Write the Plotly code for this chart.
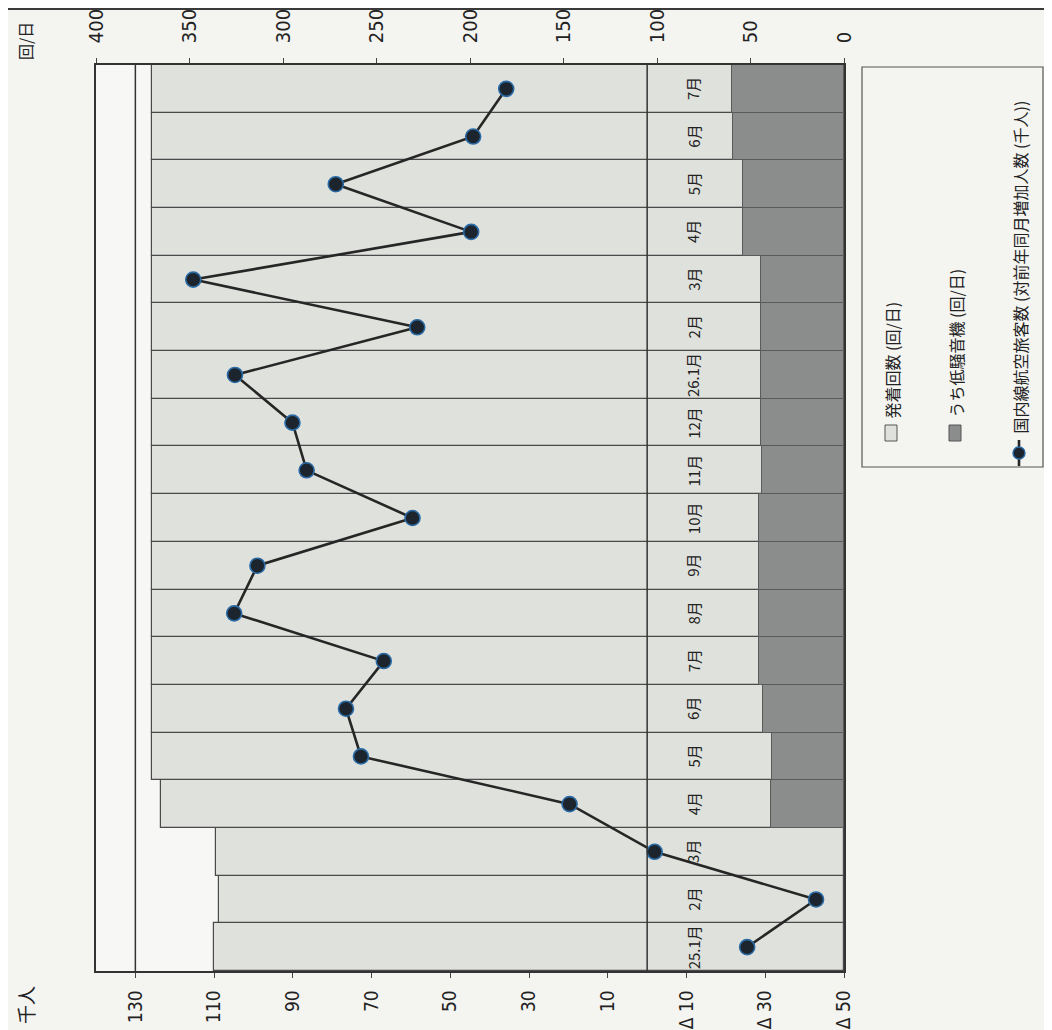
import plotly.graph_objects as go

# ---------------- data ----------------
categories = ["25.1月", "2月", "3月", "4月", "5月", "6月", "7月", "8月", "9月", "10月",
              "11月", "12月", "26.1月", "2月", "3月", "4月", "5月", "6月", "7月"]
flights_total = [337, 334, 336, 365, 370, 370, 370, 370, 370, 370,
                 370, 370, 370, 370, 370, 370, 370, 370, 370]          # 発着回数 (回/日)
flights_low_noise = [None, None, None, 38.9, 38.6, 43.5, 45.2, 45.2, 45.2, 45.2,
                     44.0, 44.3, 44.3, 44.3, 44.3, 53.9, 53.9, 59.6, 60.1]  # うち低騒音機 (回/日)
passengers_diff = [-25.4, -42.9, -1.9, 19.7, 72.7, 76.5, 66.9, 104.9, 99.0, 59.6,
                   86.5, 90.1, 104.7, 58.4, 115.3, 44.7, 79.1, 44.2, 35.8]  # 千人

flight_ticks = [0, 50, 100, 150, 200, 250, 300, 350, 400]
pax_ticks = [-50, -30, -10, 10, 30, 50, 70, 90, 110, 130]
pax_ticktext = ["Δ 50", "Δ 30", "Δ 10", "10", "30", "50", "70", "90", "110", "130"]

legend_labels = ["発着回数 (回/日)", "うち低騒音機 (回/日)",
                 "国内線航空旅客数 (対前年同月増加人数 (千人))"]

# ---------------- layout constants ----------------
OFF = 8                      # page body margin of the html page
W, H = 1052 - OFF, 1030 - OFF
# plot area in reference-page pixels
L, R, T, B = 96, 844, 65, 971
LIGHT = "#dfe1dc"
DARK = "#8b8d8c"
EDGE = "#4a4a4a"
INK = "#222222"
NUM_FONT = "DejaVu Sans Condensed, Liberation Sans, sans-serif"
JP_FONT = "Noto Sans CJK JP, sans-serif"


def P(px, py):
    """reference-page pixel -> paper coordinates"""
    return (px - L) / (R - L), (B - py) / (B - T)


idx = list(range(len(categories)))

fig = go.Figure()
fig.add_trace(go.Bar(orientation="h", y=idx, x=flights_total, width=1,
                     marker=dict(color=LIGHT, line=dict(color=EDGE, width=1.2)),
                     showlegend=False, xaxis="x", yaxis="y"))
fig.add_trace(go.Bar(orientation="h", y=idx, x=flights_low_noise, width=1,
                     marker=dict(color=DARK, line=dict(color="#5a5a5a", width=1)),
                     showlegend=False, xaxis="x", yaxis="y"))
fig.add_trace(go.Scatter(x=passengers_diff, y=idx, xaxis="x2", yaxis="y",
                         mode="lines+markers",
                         line=dict(color="#262626", width=2.6),
                         marker=dict(size=15, color="#1c252d",
                                     line=dict(color="#2a6aa5", width=1.6)),
                         showlegend=False))

shapes = []
# reference lines on the 千人 axis (0 and 130)
for v in (0, 130):
    shapes.append(dict(type="line", xref="x2", yref="paper", x0=v, x1=v, y0=0, y1=1,
                       line=dict(color="#333333", width=1.5)))
# top frame line of the page
x0p, _ = P(OFF, 0)
x1p, _ = P(1052, 0)
_, ytop = P(0, OFF + 1)
shapes.append(dict(type="line", xref="paper", yref="paper", x0=x0p, x1=x1p, y0=ytop, y1=ytop,
                   line=dict(color="#3a3a3a", width=2)))

# legend box
bx0, by0 = P(862, 467)
bx1, by1 = P(1043, 67)
shapes.append(dict(type="rect", xref="paper", yref="paper", x0=bx0, x1=bx1, y0=by0, y1=by1,
                   line=dict(color="#555555", width=1.2), fillcolor="rgba(0,0,0,0)"))
# legend glyphs
for cx, col in ((891, LIGHT), (955, DARK)):
    a0, b0 = P(cx - 6, 441)
    a1, b1 = P(cx + 6, 425)
    shapes.append(dict(type="rect", xref="paper", yref="paper", x0=a0, x1=a1, y0=b0, y1=b1,
                       fillcolor=col, line=dict(color="#555555", width=1)))
a0, b0 = P(1019, 466)
a1, b1 = P(1019, 440)
shapes.append(dict(type="line", xref="paper", yref="paper", x0=a0, x1=a1, y0=b0, y1=b1,
                   line=dict(color="#262626", width=2.6)))
a0, b0 = P(1013, 459)
a1, b1 = P(1025, 447)
shapes.append(dict(type="circle", xref="paper", yref="paper", x0=a0, x1=a1, y0=b0, y1=b1,
                   fillcolor="#1c252d", line=dict(color="#2a6aa5", width=1.4)))

annotations = []
# category labels (inside bars, right of the 千人 zero line)
for i, c in zip(idx, categories):
    annotations.append(dict(x=0, y=i, xref="x2", yref="y", text=c, showarrow=False,
                            textangle=-90, xanchor="center", yanchor="middle", xshift=46,
                            font=dict(family=JP_FONT, size=15, color=INK)))
# legend texts
for (cx, ybot), lab in zip(((891, 420), (955, 420), (1019, 436)), legend_labels):
    ax, ay = P(cx, ybot)
    annotations.append(dict(x=ax, y=ay, xref="paper", yref="paper", text=lab, showarrow=False,
                            textangle=-90, xanchor="center", yanchor="bottom",
                            font=dict(family=JP_FONT, size=16, color=INK)))
# axis unit titles
ax, ay = P(25, 1005)
annotations.append(dict(x=ax, y=ay, xref="paper", yref="paper", text="千人", showarrow=False,
                        textangle=-90, xanchor="center", yanchor="middle",
                        font=dict(family=JP_FONT, size=19, color=INK)))
ax, ay = P(25, 41)
annotations.append(dict(x=ax, y=ay, xref="paper", yref="paper", text="回/日", showarrow=False,
                        textangle=-90, xanchor="center", yanchor="middle",
                        font=dict(family=JP_FONT, size=16, color=INK)))

fig.update_layout(
    width=W, height=H, autosize=False,
    margin=dict(l=L - OFF, r=1052 - R, t=T - OFF, b=1030 - B, pad=0, autoexpand=False),
    paper_bgcolor="#f4f4f1", plot_bgcolor="#f7f7f5",
    barmode="overlay", bargap=0,
    showlegend=False,
    xaxis=dict(side="top", range=[400, 0], tickvals=flight_ticks, tickangle=-90,
               ticks="outside", ticklen=5, tickcolor="#444", showgrid=False, zeroline=False,
               showline=True, linecolor="#333", linewidth=1.5, ticklabelstandoff=11,
               automargin=False,
               tickfont=dict(family=NUM_FONT, size=20, color=INK)),
    xaxis2=dict(overlaying="x", side="bottom", anchor="y", range=[140, -50],
                tickvals=pax_ticks, ticktext=pax_ticktext, tickangle=-90,
                ticks="outside", ticklen=5, tickcolor="#444", showgrid=False, zeroline=False,
                showline=True, linecolor="#333", linewidth=1.5, ticklabelstandoff=5,
                automargin=False,
                tickfont=dict(family=NUM_FONT, size=19, color=INK)),
    yaxis=dict(range=[-0.5, len(categories) - 0.5], showticklabels=False, ticks="",
               showgrid=False, zeroline=False, showline=True, mirror=True,
               linecolor="#333", linewidth=1.5, automargin=False),
    shapes=shapes, annotations=annotations,
)

fig.write_html("out.html")
